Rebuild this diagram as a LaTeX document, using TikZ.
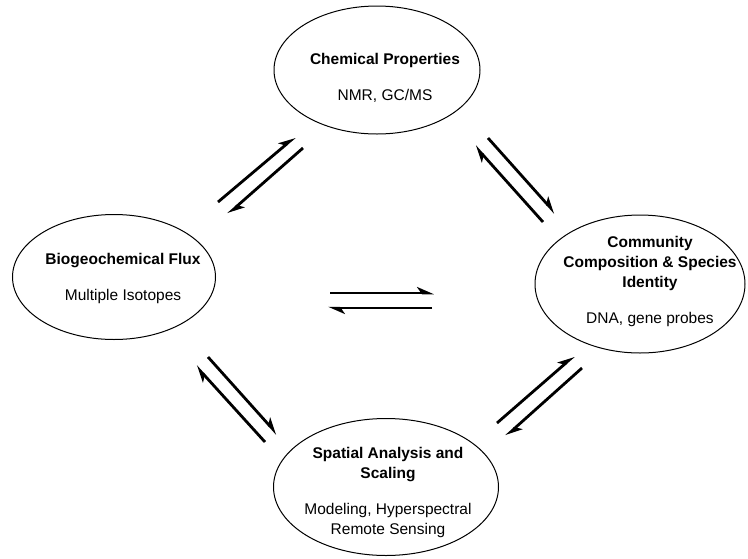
\documentclass[tikz,border=0pt]{standalone}
\usepackage{fontspec}
\setmainfont{Liberation Sans}
\usetikzlibrary{arrows.meta,shapes.geometric}

\begin{document}
\begin{tikzpicture}[
  x=1pt, y=-1pt,
  topic/.style={draw, ellipse, line width=1pt, inner sep=0pt},
  topictext/.style={align=center, inner sep=0pt,
                    font=\fontsize{15.5}{20}\selectfont},
  harp/.style={line width=2.8pt,
               -{Stealth[harpoon, length=14pt, width=12pt, inset=4pt]}}
]
\useasboundingbox (0,0) rectangle (748,558);

% four topics
\node[topic, minimum width=206pt, minimum height=128pt] (chem) at (377,70) {};
\node[topic, minimum width=203pt, minimum height=125pt] (flux) at (114,277) {};
\node[topic, minimum width=210pt, minimum height=138pt] (comm) at (640,284) {};
\node[topic, minimum width=225pt, minimum height=137pt] (space) at (386,487) {};

\node[topictext] (chemtext) at (385,78)
  {\textbf{Chemical Properties}\\[16pt]NMR, GC/MS};
\node[topictext] (fluxtext) at (123,278)
  {\textbf{Biogeochemical Flux}\\[16pt]Multiple Isotopes};
\node[topictext] (commtext) at (650,281)
  {\textbf{Community}\\\textbf{Composition \& Species}\\\textbf{Identity}\\[16pt]DNA, gene probes};
\node[topictext] (spacetext) at (388,492)
  {\textbf{Spatial Analysis and}\\\textbf{Scaling}\\[16pt]Modeling, Hyperspectral\\Remote Sensing};

% arrow ends
\coordinate (fc1) at (218,202); \coordinate (fc2) at (295,137);
\coordinate (cf1) at (303,148); \coordinate (cf2) at (228,214);
\coordinate (cm1) at (488,138); \coordinate (cm2) at (555,213);
\coordinate (mc1) at (543,222); \coordinate (mc2) at (475,146);
\coordinate (fm1) at (330,293); \coordinate (fm2) at (434,293);
\coordinate (mf1) at (432,308); \coordinate (mf2) at (328,308);
\coordinate (fs1) at (208,357); \coordinate (fs2) at (277,434);
\coordinate (sf1) at (265,442); \coordinate (sf2) at (196,366);
\coordinate (sm1) at (497,423); \coordinate (sm2) at (574,356);
\coordinate (ms1) at (582,368); \coordinate (ms2) at (506,436);

\draw[harp] (fc1) -- (fc2);
\draw[harp] (cf1) -- (cf2);
\draw[harp] (cm1) -- (cm2);
\draw[harp] (mc1) -- (mc2);
\draw[harp] (fm1) -- (fm2);
\draw[harp] (mf1) -- (mf2);
\draw[harp] (fs1) -- (fs2);
\draw[harp] (sf1) -- (sf2);
\draw[harp] (sm1) -- (sm2);
\draw[harp] (ms1) -- (ms2);
\end{tikzpicture}
\end{document}
